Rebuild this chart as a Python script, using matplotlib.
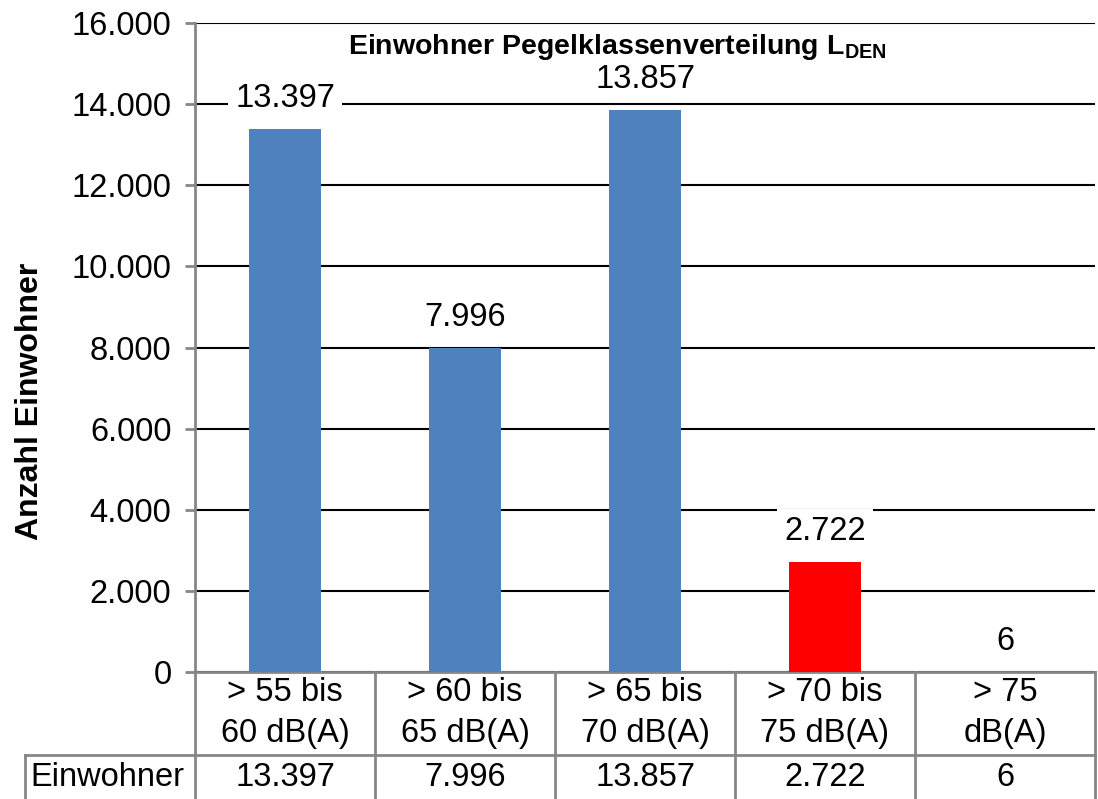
import matplotlib
matplotlib.use('Agg')
import matplotlib.pyplot as plt
import matplotlib.transforms as mtransforms

plt.rcParams['font.family'] = ['Liberation Sans', 'DejaVu Sans']
plt.rcParams['mathtext.fontset'] = 'custom'
plt.rcParams['mathtext.rm'] = 'Liberation Sans'
plt.rcParams['mathtext.bf'] = 'Liberation Sans:bold'

categories = ['> 55 bis\n60 dB(A)', '> 60 bis\n65 dB(A)', '> 65 bis\n70 dB(A)',
              '> 70 bis\n75 dB(A)', '> 75\ndB(A)']
einwohner = [13397, 7996, 13857, 2722, 6]
bar_colors = ['#4F81BD', '#4F81BD', '#4F81BD', '#FF0000', '#4F81BD']
y_ticks = [0, 2000, 4000, 6000, 8000, 10000, 12000, 14000, 16000]


def de_fmt(v):
    return f'{v:,}'.replace(',', '.')


fs = 23.5
fig = plt.figure(figsize=(10.98, 7.99), dpi=100)
ax = fig.add_axes([195 / 1098, 1 - 672 / 799, 900 / 1098, 649 / 799])

x = list(range(len(categories)))
ax.bar(x, einwohner, width=0.4, color=bar_colors, zorder=3)
ax.set_xlim(-0.5, len(categories) - 0.5)
ax.set_ylim(0, 16000)
ax.set_yticks(y_ticks)
ax.set_yticklabels([de_fmt(v) for v in y_ticks], fontsize=fs)
ax.set_xticks([])
ax.yaxis.grid(True, color='black', linewidth=1.5, zorder=1)
for s in ['top', 'right']:
    ax.spines[s].set_visible(False)
ax.spines['left'].set_color('#868686')
ax.spines['left'].set_linewidth(2)
ax.spines['bottom'].set_color('#868686')
ax.spines['bottom'].set_linewidth(2)
ax.tick_params(axis='y', color='#868686', width=2, length=7, pad=10)

# value labels
for xi, v in zip(x, einwohner):
    ax.annotate(de_fmt(v), (xi, v), xytext=(0, 22), textcoords='offset points',
                ha='center', va='center', fontsize=fs, zorder=4,
                bbox=dict(facecolor='white', edgecolor='none', pad=5))

ax.text(0.469, 0.963, r'Einwohner Pegelklassenverteilung $\mathbf{L}_{\mathbf{DEN}}$',
        transform=ax.transAxes, ha='center', va='center', fontsize=20.5,
        fontweight='bold', zorder=5,
        bbox=dict(facecolor='white', edgecolor='none', pad=1))

fig.text(30 / 1098, 1 - 401 / 799, 'Anzahl Einwohner', rotation=90,
         ha='center', va='center', fontsize=23, fontweight='bold')

# data table below the axis
trans = mtransforms.blended_transform_factory(ax.transData, ax.transAxes)
row1 = -83 / 649
row2 = -130 / 649
gray = '#868686'
for b in [i - 0.5 for i in range(len(categories) + 1)]:
    ax.plot([b, b], [0, row2], transform=trans, color=gray, lw=2, clip_on=False)
left_x = (25 - 195) / 900 * len(categories) - 0.5
ax.plot([left_x, len(categories) - 0.5], [row1, row1], transform=trans,
        color=gray, lw=2, clip_on=False)
ax.plot([left_x, left_x], [row1, row2], transform=trans, color=gray, lw=2,
        clip_on=False)
for xi, c, v in zip(x, categories, einwohner):
    ax.text(xi, -41 / 649, c, transform=trans, ha='center', va='center',
            fontsize=fs, linespacing=1.4)
    ax.text(xi, -106 / 649, de_fmt(v), transform=trans, ha='center',
            va='center', fontsize=fs)
ax.text(left_x + 0.03, -106 / 649, 'Einwohner', transform=trans, ha='left',
        va='center', fontsize=fs)

fig.savefig('out.png', dpi=100)
